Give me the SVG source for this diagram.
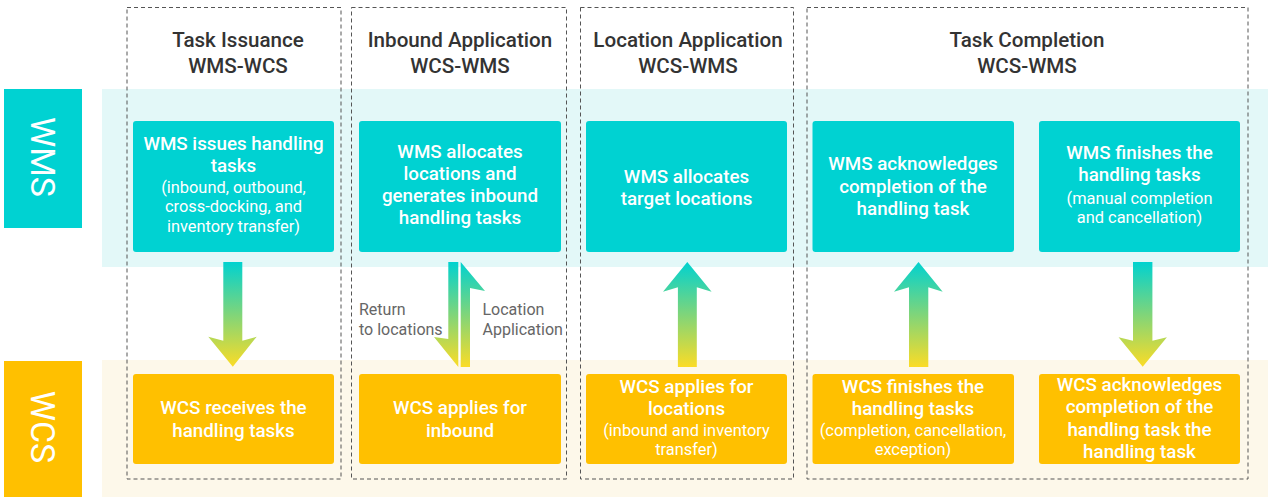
<svg xmlns="http://www.w3.org/2000/svg" width="1268" height="497" viewBox="0 0 1268 497">
<defs>
<linearGradient id="ag" x1="0" y1="0" x2="0" y2="1">
<stop offset="0" stop-color="#00d2d0"/>
<stop offset="0.5" stop-color="#7fd57a"/>
<stop offset="1" stop-color="#fbdc26"/>
</linearGradient>
<style>
.band-wms{fill:#e3f8f8}
.band-wcs{fill:#fdf8ea}
.side-wms{fill:#00d2d2}
.side-wcs{fill:#ffc000}
.side-t{font-family:Roboto,"Liberation Sans",sans-serif;font-size:34px;fill:#fff;text-anchor:middle}
.col{fill:none;stroke:#555;stroke-width:1;stroke-dasharray:4 3}
.hdr{font-family:Roboto,"Liberation Sans",sans-serif;font-size:20.6px;font-weight:500;fill:#333;text-anchor:middle}
.nw{fill:#00d2d2}
.nc{fill:#ffc000}
.t{font-family:Roboto,"Liberation Sans",sans-serif;font-size:18.8px;font-weight:500;fill:#fff;text-anchor:middle}
.s{font-family:Roboto,"Liberation Sans",sans-serif;font-size:16.4px;fill:#fff;text-anchor:middle}
.lbl{font-family:Roboto,"Liberation Sans",sans-serif;font-size:16px;fill:#666}
.arr{fill:url(#ag)}
</style>
</defs>
<g id="bands">
<rect class="band-wms" x="102" y="89" width="1166" height="178"/>
<rect class="band-wcs" x="102" y="360" width="1166" height="137"/>
</g>
<g id="lane-wms">
<rect class="side-wms" x="4" y="89" width="78" height="139"/>
<text class="side-t" transform="translate(43 157) rotate(90)" y="12">WMS</text>
</g>
<g id="lane-wcs">
<rect class="side-wcs" x="4" y="361" width="78" height="136"/>
<text class="side-t" transform="translate(43 427) rotate(90)" y="12">WCS</text>
</g>
<g id="col-task-issuance">
<rect class="col" x="127" y="7.5" width="214" height="471.5"/>
<text class="hdr" x="238" y="47">Task Issuance</text>
<text class="hdr" x="238" y="73">WMS-WCS</text>
</g>
<g id="col-inbound-application">
<rect class="col" x="351.5" y="7.5" width="215" height="471.5"/>
<text class="hdr" x="460" y="47">Inbound Application</text>
<text class="hdr" x="460" y="73">WCS-WMS</text>
</g>
<g id="col-location-application">
<rect class="col" x="580.5" y="7.5" width="213" height="471.5"/>
<text class="hdr" x="688" y="47">Location Application</text>
<text class="hdr" x="688" y="73">WCS-WMS</text>
</g>
<g id="col-task-completion">
<rect class="col" x="807" y="7.5" width="441" height="471.5"/>
<text class="hdr" x="1027" y="47">Task Completion</text>
<text class="hdr" x="1027" y="73">WCS-WMS</text>
</g>
<g id="n-wms-issues">
<rect class="nw" x="133" y="121" width="201" height="131" rx="3"/>
<text class="t" x="233.5" y="150">WMS issues handling</text>
<text class="t" x="233.5" y="172">tasks</text>
<text class="s" x="233.5" y="193">(inbound, outbound,</text>
<text class="s" x="233.5" y="212">cross-docking, and</text>
<text class="s" x="233.5" y="232">inventory transfer)</text>
</g>
<g id="n-wms-allocates-inbound">
<rect class="nw" x="359" y="121" width="202" height="131" rx="3"/>
<text class="t" x="460" y="158">WMS allocates</text>
<text class="t" x="460" y="180">locations and</text>
<text class="t" x="460" y="202">generates inbound</text>
<text class="t" x="460" y="224">handling tasks</text>
</g>
<g id="n-wms-allocates-target">
<rect class="nw" x="586" y="121" width="201" height="131" rx="3"/>
<text class="t" x="686.5" y="183">WMS allocates</text>
<text class="t" x="686.5" y="205">target locations</text>
</g>
<g id="n-wms-acknowledges">
<rect class="nw" x="812.5" y="121" width="201.5" height="131" rx="3"/>
<text class="t" x="913" y="170">WMS acknowledges</text>
<text class="t" x="913" y="193">completion of the</text>
<text class="t" x="913" y="215">handling task</text>
</g>
<g id="n-wms-finishes">
<rect class="nw" x="1039" y="121" width="201" height="131" rx="3"/>
<text class="t" x="1139.5" y="159">WMS finishes the</text>
<text class="t" x="1139.5" y="181">handling tasks</text>
<text class="s" x="1139.5" y="204">(manual completion</text>
<text class="s" x="1139.5" y="223">and cancellation)</text>
</g>
<g id="n-wcs-receives">
<rect class="nc" x="133" y="374" width="201" height="90" rx="3"/>
<text class="t" x="233.5" y="414">WCS receives the</text>
<text class="t" x="233.5" y="437">handling tasks</text>
</g>
<g id="n-wcs-applies-inbound">
<rect class="nc" x="359" y="374" width="202" height="90" rx="3"/>
<text class="t" x="460" y="414">WCS applies for</text>
<text class="t" x="460" y="437">inbound</text>
</g>
<g id="n-wcs-applies-locations">
<rect class="nc" x="586" y="374" width="201" height="90" rx="3"/>
<text class="t" x="686.5" y="393">WCS applies for</text>
<text class="t" x="686.5" y="415">locations</text>
<text class="s" x="686.5" y="436">(inbound and inventory</text>
<text class="s" x="686.5" y="455">transfer)</text>
</g>
<g id="n-wcs-finishes">
<rect class="nc" x="812.5" y="374" width="201.5" height="90" rx="3"/>
<text class="t" x="913" y="393">WCS finishes the</text>
<text class="t" x="913" y="415">handling tasks</text>
<text class="s" x="913" y="436">(completion, cancellation,</text>
<text class="s" x="913" y="455">exception)</text>
</g>
<g id="n-wcs-acknowledges">
<rect class="nc" x="1039" y="374" width="201" height="90" rx="3"/>
<text class="t" x="1139.5" y="391">WCS acknowledges</text>
<text class="t" x="1139.5" y="413">completion of the</text>
<text class="t" x="1139.5" y="436">handling task the</text>
<text class="t" x="1139.5" y="458">handling task</text>
</g>
<g id="connectors">
<polygon class="arr" points="223.3,262 242.3,262 242.3,340.7 256.7,336.7 232.8,366.7 208.3,336.7 223.3,340.7"/>
<polygon class="arr" points="448.3,262 458.3,262 458.3,367 434,337 448.3,339"/>
<polygon class="arr" points="460.7,262 485,291 470,288 470,367 460.7,367"/>
<polygon class="arr" points="687.3,262 711.6,291.7 696.8,287.3 696.8,367 677.9,367 677.9,287.3 663,291.7"/>
<polygon class="arr" points="918.5,262 942.7,291.7 928.3,287.3 928.3,367 909,367 909,287.3 894,291.7"/>
<polygon class="arr" points="1133,262 1152.4,262 1152.4,340.7 1166.9,337.3 1142.7,366.7 1118.6,337.3 1133,340.7"/>
<text class="lbl" x="359" y="315">Return</text>
<text class="lbl" x="359" y="335">to locations</text>
<text class="lbl" x="482.5" y="315">Location</text>
<text class="lbl" x="482.5" y="335">Application</text>
</g>
</svg>
